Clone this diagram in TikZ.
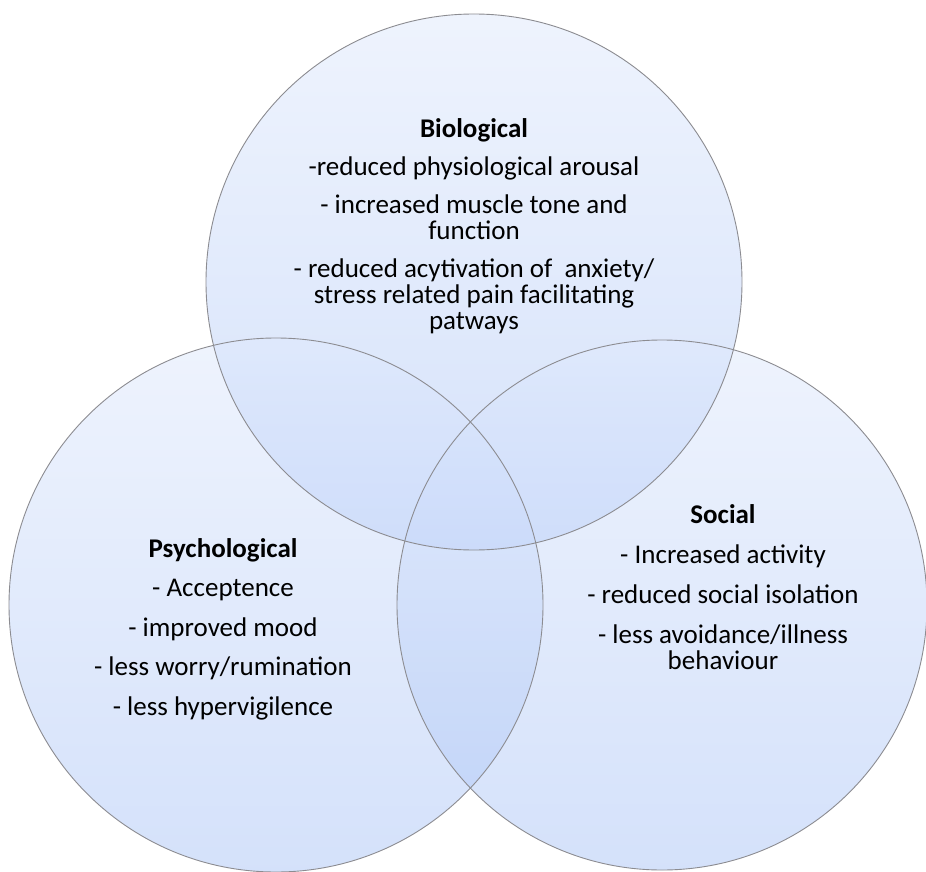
\documentclass[tikz,border=0pt]{standalone}
\usepackage{fontspec}
\setmainfont{Carlito}
\definecolor{ctop}{RGB}{223,233,253}
\definecolor{cbot}{RGB}{171,197,247}
\definecolor{edge}{RGB}{140,140,145}
\tikzset{
  vennfill/.style={top color=ctop, bottom color=cbot, fill opacity=0.5},
  vennedge/.style={draw=edge, line width=0.9pt},
  blocktext/.style={align=center, text=black, font=\fontsize{27}{26}\selectfont, inner sep=0pt}
}
\begin{document}
\begin{tikzpicture}[x=1pt,y=-1pt]
\useasboundingbox (0,0) rectangle (926,872);
\fill[white] (0,0) rectangle (926,872);
\coordinate (cb) at (474,282);
\coordinate (cp) at (276,605);
\coordinate (cs) at (662,605);
\shade[vennfill] (cb) circle (268);
\shade[vennfill] (cp) circle (267);
\shade[vennfill] (cs) circle (265);
\draw[vennedge] (cb) circle (268);
\draw[vennedge] (cp) circle (267);
\draw[vennedge] (cs) circle (265);
\node[blocktext] (bio) at (474,226) {\textbf{Biological}\\[12pt]
-reduced physiological arousal\\[12pt]
- increased muscle tone and\\ function\\[12pt]
- reduced acytivation of\ \ anxiety/\\ stress related pain facilitating\\ patways};
\node[blocktext] (psy) at (223,629) {\textbf{Psychological}\\[13.5pt]
- Acceptence\\[13.5pt]
- improved mood\\[13.5pt]
- less worry/rumination\\[13.5pt]
- less hypervigilence};
\node[blocktext] (soc) at (723,587) {\textbf{Social}\\[14pt]
- Increased activity\\[14pt]
- reduced social isolation\\[14pt]
- less avoidance/illness\\ behaviour};
\end{tikzpicture}
\end{document}
